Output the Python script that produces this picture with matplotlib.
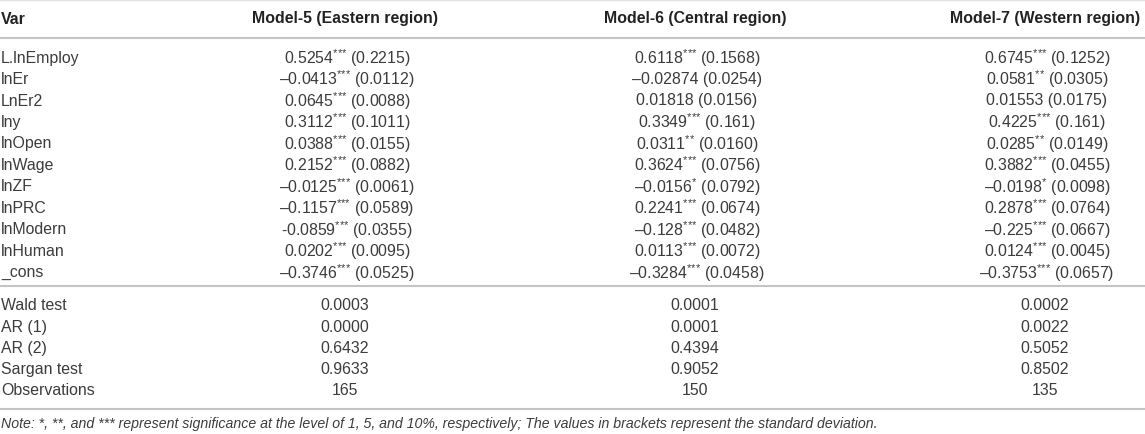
import matplotlib
matplotlib.use("Agg")
import matplotlib.pyplot as plt

plt.rcParams['font.family'] = ['Liberation Sans', 'DejaVu Sans']
plt.rcParams['mathtext.fontset'] = 'custom'
plt.rcParams['mathtext.rm'] = 'Liberation Sans'
plt.rcParams['mathtext.it'] = 'Liberation Sans:italic'
plt.rcParams['mathtext.bf'] = 'Liberation Sans:bold'

# ---------------- data ----------------
header = ["Var", "Model-5 (Eastern region)", "Model-6 (Central region)", "Model-7 (Western region)"]

variables = ["L.lnEmploy", "lnEr", "LnEr2", "lny", "lnOpen", "lnWage", "lnZF",
             "lnPRC", "lnModern", "lnHuman", "_cons"]

m5_coef = ["0.5254", "–0.0413", "0.0645", "0.3112", "0.0388", "0.2152", "–0.0125",
           "–0.1157", "-0.0859", "0.0202", "–0.3746"]
m5_star = ["***", "***", "***", "***", "***", "***", "***", "***", "***", "***", "***"]
m5_se = ["0.2215", "0.0112", "0.0088", "0.1011", "0.0155", "0.0882", "0.0061",
         "0.0589", "0.0355", "0.0095", "0.0525"]

m6_coef = ["0.6118", "–0.02874", "0.01818", "0.3349", "0.0311", "0.3624", "–0.0156",
           "0.2241", "–0.128", "0.0113", "–0.3284"]
m6_star = ["***", "", "", "***", "**", "***", "*", "***", "***", "***", "***"]
m6_se = ["0.1568", "0.0254", "0.0156", "0.161", "0.0160", "0.0756", "0.0792",
         "0.0674", "0.0482", "0.0072", "0.0458"]

m7_coef = ["0.6745", "0.0581", "0.01553", "0.4225", "0.0285", "0.3882", "–0.0198",
           "0.2878", "–0.225", "0.0124", "–0.3753"]
m7_star = ["***", "**", "", "***", "**", "***", "*", "***", "***", "***", "***"]
m7_se = ["0.1252", "0.0305", "0.0175", "0.161", "0.0149", "0.0455", "0.0098",
         "0.0764", "0.0667", "0.0045", "0.0657"]

tests = ["Wald test", "AR (1)", "AR (2)", "Sargan test", "Observations"]
m5_tests = ["0.0003", "0.0000", "0.6432", "0.9633", "165"]
m6_tests = ["0.0001", "0.0001", "0.4394", "0.9052", "150"]
m7_tests = ["0.0002", "0.0022", "0.5052", "0.8502", "135"]

note = ("Note: *, **, and *** represent significance at the level of 1, 5, and 10%, "
        "respectively; The values in brackets represent the standard deviation.")

# ---------------- layout ----------------
W, H = 1145, 435
fig = plt.figure(figsize=(W / 100, H / 100), dpi=100)
ax = fig.add_axes([0, 0, 1, 1])
ax.set_xlim(0, W)
ax.set_ylim(H, 0)
ax.axis('off')

txt = '#3c3c3c'
linec = '#c4c4c4'
fs = 11.4
col_x = [1, 347, 697, 1047]

# header
ax.text(col_x[0], 19, header[0], fontsize=fs, fontweight='bold', color='#222222',
        ha='left', va='center')
for j in range(1, 4):
    ax.text(col_x[j] - 2, 19, header[j], fontsize=fs, fontweight='bold', color='#222222',
            ha='center', va='center')


def cell(c, s, e):
    if s:
        return c + r"$^{\mathrm{" + s.replace('*', r'{*}') + r"}}$" + " (" + e + ")"
    return c + " (" + e + ")"


y0, dy = 58, 21.5
models = [(m5_coef, m5_star, m5_se), (m6_coef, m6_star, m6_se), (m7_coef, m7_star, m7_se)]
for i, v in enumerate(variables):
    y = y0 + i * dy
    ax.text(col_x[0], y, v, fontsize=fs, color=txt, ha='left', va='center')
    for j, (c, s, e) in enumerate(models):
        ax.text(col_x[j + 1], y, cell(c[i], s[i], e[i]), fontsize=fs, color=txt,
                ha='center', va='center')

y1, dy2 = 306, 21.25
for i, t in enumerate(tests):
    y = y1 + i * dy2
    ax.text(col_x[0], y, t, fontsize=fs, color=txt, ha='left', va='center')
    for j, vals in enumerate([m5_tests, m6_tests, m7_tests]):
        ax.text(col_x[j + 1] - 2, y, vals[i], fontsize=fs, color=txt, ha='center', va='center')

ax.text(col_x[0], 424, note, fontsize=10.15, style='italic', color=txt, ha='left', va='center')

for yl, lw, c in [(1, 1.0, '#e0e0e0'), (39, 1.5, linec), (287, 1.5, linec), (410, 1.5, linec)]:
    ax.axhline(yl, color=c, lw=lw)

fig.savefig('out.png', dpi=100)
